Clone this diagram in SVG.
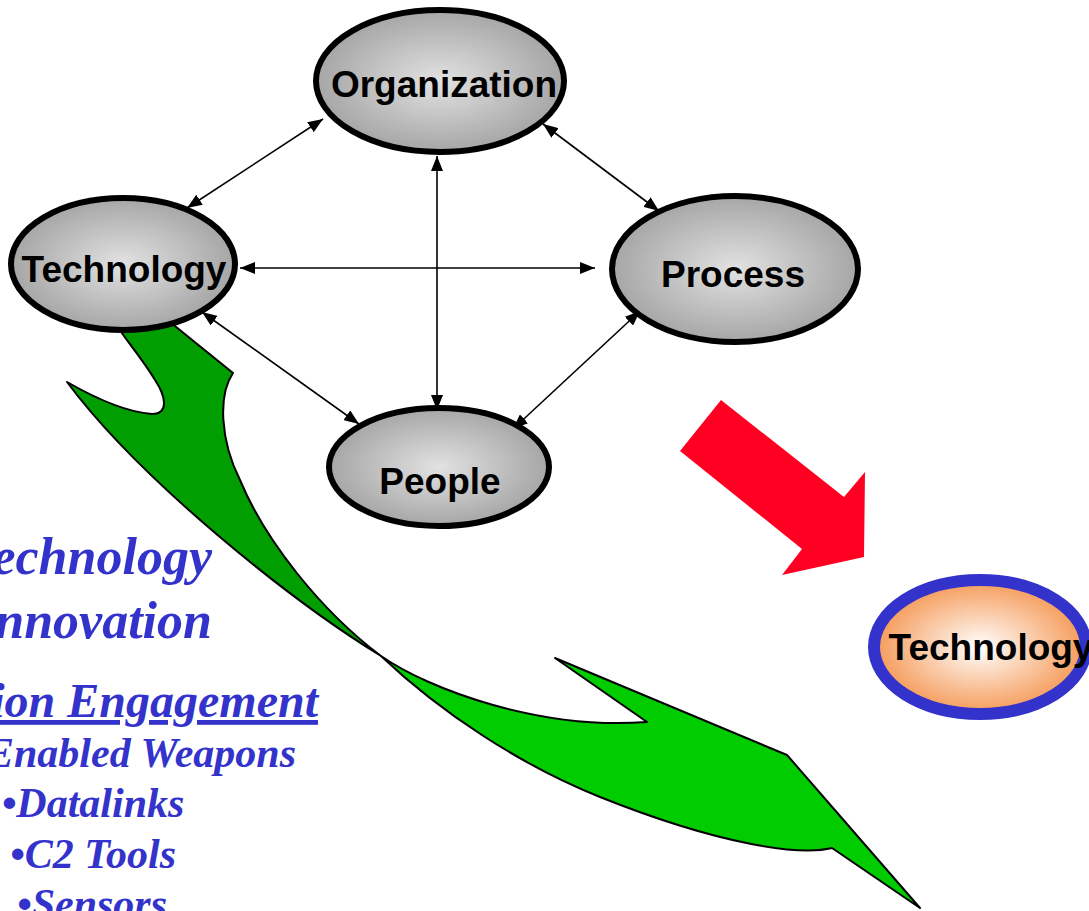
<svg xmlns="http://www.w3.org/2000/svg" width="1089" height="911" viewBox="0 0 1089 911">
  <style>
    .node { stroke: #000; stroke-width: 6; fill: url(#gray); }
    .label { font-family: "Liberation Sans", Arial, sans-serif; font-weight: bold; font-size: 37px; fill: #000; text-anchor: middle; }
    .link { stroke: #000; stroke-width: 1.6; fill: none; marker-start: url(#head); marker-end: url(#head); }
    .note { font-family: "Liberation Serif", "Times New Roman", serif; font-weight: bold; font-style: italic; fill: #3333CC; }
  </style>
  <defs>
    <radialGradient id="gray" cx="50%" cy="50%" r="50%">
      <stop offset="0" stop-color="#E2E2E2"/>
      <stop offset="1" stop-color="#A6A6A6"/>
    </radialGradient>
    <radialGradient id="orange" cx="50%" cy="50%" r="50%">
      <stop offset="0" stop-color="#FFFFFF"/>
      <stop offset="1" stop-color="#F59A58"/>
    </radialGradient>
    <marker id="head" markerWidth="16" markerHeight="12" refX="15" refY="6" orient="auto-start-reverse" markerUnits="userSpaceOnUse">
      <path d="M0,0 L15,6 L0,12 Z" fill="#000"/>
    </marker>
  </defs>

  <!-- twisted green arrow sweeping from Technology down to the lower right -->
  <g id="green-arrow" stroke="#000" stroke-width="2" stroke-linejoin="round">
    <path fill="#009E00" d="M112,318 L165,318 L233,373 C218,395 220,440 240,480 C265,540 320,610 381,656 C290,600 140,480 67,382 C95,398 125,412 152,414 C170,414 165,395 155,380 C140,355 125,340 112,318 Z"/>
    <path fill="#00CC00" d="M381,656 C430,690 540,730 647,722 L555,658 L787,755 L920,908 L832,848 C800,856 720,845 600,797 C520,765 440,712 381,656 Z"/>
  </g>

  <!-- red block arrow -->
  <g id="red-arrow">
    <polygon points="721,400 844,497 865,472 864,557 782,575 802,549 680,451" fill="#FF0022"/>
  </g>

  <!-- connectors between the four elements -->
  <g id="connectors">
    <line class="link" x1="187" y1="208" x2="323" y2="119"/>
    <line class="link" x1="543" y1="124" x2="659" y2="211"/>
    <line class="link" x1="437" y1="156" x2="437" y2="410"/>
    <line class="link" x1="240" y1="268" x2="595" y2="268"/>
    <line class="link" x1="202" y1="312" x2="359" y2="424"/>
    <line class="link" x1="640" y1="311" x2="513" y2="429"/>
  </g>

  <g id="organization">
    <ellipse class="node" cx="440" cy="81" rx="124" ry="71"/>
    <text class="label" x="444" y="97">Organization</text>
  </g>
  <g id="technology">
    <ellipse class="node" cx="123" cy="264" rx="112" ry="66"/>
    <text class="label" x="124" y="282">Technology</text>
  </g>
  <g id="process">
    <ellipse class="node" cx="735" cy="269" rx="123" ry="73"/>
    <text class="label" x="733" y="287">Process</text>
  </g>
  <g id="people">
    <ellipse class="node" cx="439" cy="467" rx="110" ry="59"/>
    <text class="label" x="440" y="494">People</text>
  </g>
  <g id="technology-focus">
    <ellipse cx="980" cy="647" rx="106" ry="67" fill="url(#orange)" stroke="#3333CC" stroke-width="12"/>
    <text class="label" x="991" y="660">Technology</text>
  </g>

  <!-- text block at lower left -->
  <g id="notes">
    <text class="note" x="212" y="574" font-size="52" text-anchor="end">Technology</text>
    <text class="note" x="212" y="638" font-size="52" text-anchor="end">Innovation</text>
    <text class="note" x="318" y="717" font-size="48" text-anchor="end" text-decoration="underline">Precision Engagement</text>
    <text class="note" x="296" y="767" font-size="42" text-anchor="end">Enabled Weapons</text>
    <text class="note" x="93" y="817" font-size="42" text-anchor="middle">•Datalinks</text>
    <text class="note" x="93" y="868" font-size="42" text-anchor="middle">•C2 Tools</text>
    <text class="note" x="92" y="918" font-size="42" text-anchor="middle">•Sensors</text>
  </g>
</svg>
